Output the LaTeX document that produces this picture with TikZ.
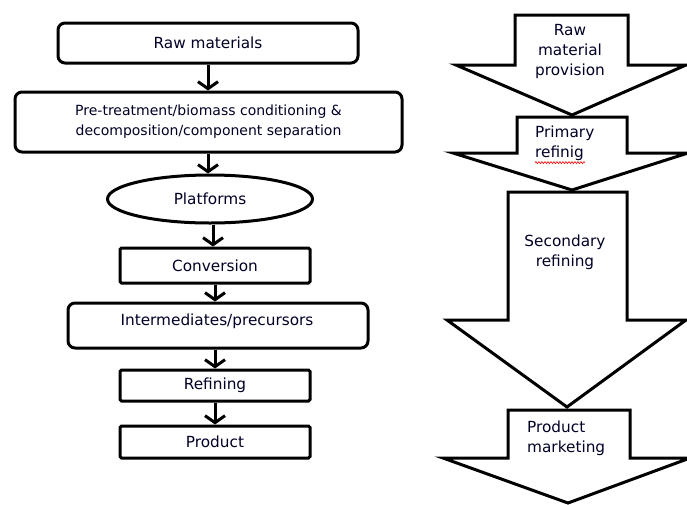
\documentclass[tikz,border=0pt]{standalone}
\usepackage{fontspec}
\setmainfont{DejaVu Sans}
\usetikzlibrary{arrows.meta,shapes.geometric,decorations.pathmorphing}

\begin{document}
\begin{tikzpicture}[x=1pt,y=-1pt,
  txt/.style={font=\fontsize{15.3}{20}\selectfont, text=black!85!blue},
  box/.style={txt, draw, line width=3pt, align=center, inner sep=0pt, fill=white},
  roundbox/.style={box, rounded corners=7pt},
  squarebox/.style={box, rounded corners=1.5pt},
  oval/.style={box, ellipse},
  arr/.style={line width=3pt, -{Straight Barb[length=7pt,width=20pt]}},
  blockarrow/.style={draw, line width=3pt, fill=white, line join=miter},
  lbl/.style={txt, inner sep=0pt}
]
\clip (0,0) rectangle (687,504);
\fill[white] (0,0) rectangle (687,504);

% ---- left: process chain ----
\node[roundbox, minimum width=300pt, minimum height=40pt] (raw) at (208,43) {Raw materials};
\node[roundbox, minimum width=387pt, minimum height=60pt, font=\fontsize{14}{20}\selectfont] (pre) at (208.5,122)
  {Pre-treatment/biomass conditioning \&\\decomposition/component separation};
\node[oval, minimum width=205pt, minimum height=48pt] (plat) at (210,199) {Platforms};
\node[squarebox, minimum width=190pt, minimum height=35pt] (conv) at (215,265.5) {Conversion};
\node[roundbox, minimum width=300pt, minimum height=45pt] (inter) at (218,325.5) {};
\node[lbl] (intertext) at (217,321) {Intermediates/precursors};
\node[squarebox, minimum width=190pt, minimum height=31pt] (refi) at (215,385.5) {Refining};
\node[squarebox, minimum width=190pt, minimum height=32pt] (prod) at (215,442) {Product};

\draw[arr] (raw.south) -- (raw.south |- pre.north);
\draw[arr] (pre.south -| raw.south) -- (raw.south |- plat.north);
\draw[arr] (plat.south) ++(3,0) coordinate (p1) -- (p1 |- conv.north);
\draw[arr] (conv.south) -- (conv.south |- inter.north);
\draw[arr] (conv.south |- inter.south) -- (conv.south |- refi.north);
\draw[arr] (refi.south) -- (prod.north);

% ---- right: stage arrows ----
\draw[blockarrow] (515,15) -- (628,15) -- (628,65) -- (686,65) -- (572,115)
  -- (456,65) -- (515,65) -- cycle;
\draw[blockarrow] (517,117) -- (627,117) -- (627,153) -- (688,153) -- (572,190)
  -- (453,153) -- (517,153) -- cycle;
\draw[blockarrow] (508,192) -- (627,192) -- (627,320) -- (686,320) -- (567,407)
  -- (447,320) -- (508,320) -- cycle;
\draw[blockarrow] (508,410) -- (630,410) -- (630,458) -- (690,458) -- (568,503)
  -- (443,458) -- (508,458) -- cycle;

\node[lbl, align=center] (s1) at (570,52) {Raw\\material\\provision};
\node[lbl, align=left, anchor=west] (s2) at (535,143) {Primary\\refinig};
\draw[red, line width=0.6pt, decorate, decoration={snake, amplitude=1pt, segment length=3pt}]
  (s2.south west) ++(0,2) -- ++(50,0);
\node[lbl, align=center] (s3) at (565,252) {Secondary\\refining};
\node[lbl, align=left, anchor=west] (s4) at (527,438) {Product\\marketing};
\end{tikzpicture}
\end{document}
